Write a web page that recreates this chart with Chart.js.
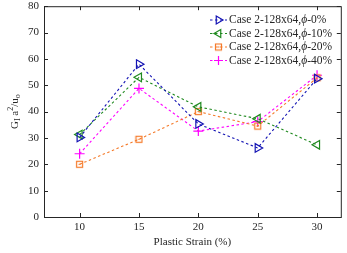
<!DOCTYPE html>
<html>
<head>
<meta charset="utf-8">
<script src="https://cdn.jsdelivr.net/npm/chart.js@4/dist/chart.umd.min.js"></script>
<style>
  html, body { margin: 0; padding: 0; background: #fff; }
  #wrap { width: 347px; height: 253px; }
</style>
</head>
<body>
<div id="wrap"><canvas id="c" width="347" height="253"></canvas></div>
<script>
const strain = [10, 15, 20, 25, 30];
const phi0 = [30.2, 58, 35.3, 26.2, 52.5];
const phi10 = [31.3, 53, 41.8, 37.3, 27.4];
const phi20 = [20, 29.5, 40, 34.5, 52.8];
const phi40 = [24, 48.8, 32.6, 36.2, 53.8];
const xTicks = [10, 15, 20, 25, 30];
const yTicks = [0, 10, 20, 30, 40, 50, 60, 70, 80];
const labels = ['Case 2-128x64,', 'Case 2-128x64,', 'Case 2-128x64,', 'Case 2-128x64,'];
const suffixes = ['-0%', '-10%', '-20%', '-40%'];

const FONT = '"Liberation Serif", "Times New Roman", serif';
const TXT = '#262626';
const DASH = [2.5, 2.5];

// square with a small centre mark, for the 20% series
function squareMarker(color) {
  const cv = document.createElement('canvas');
  cv.width = 9; cv.height = 9;
  const g = cv.getContext('2d');
  g.strokeStyle = color; g.lineWidth = 1.2;
  g.strokeRect(1.5, 1.5, 6, 6);
  g.fillStyle = color;
  g.fillRect(3.5, 4, 2, 1);
  return cv;
}

const series = [
  { vals: phi0, color: '#1414b4', style: 'triangle', rot: 90 },
  { vals: phi10, color: '#208a20', style: 'triangle', rot: -90 },
  { vals: phi20, color: '#f57a2a', style: squareMarker('#f57a2a'), rot: 0 },
  { vals: phi40, color: '#ff00ff', style: 'cross', rot: 0 },
];

const datasets = series.map((s, i) => ({
  label: labels[i] + suffixes[i],
  data: strain.map((x, j) => ({ x, y: s.vals[j] })),
  borderColor: s.color,
  backgroundColor: 'rgba(0,0,0,0)',
  borderWidth: 1.1,
  borderDash: DASH,
  pointStyle: s.style,
  pointRotation: s.rot,
  pointRadius: 5,
  pointBorderWidth: 1.2,
  pointBorderColor: s.color,
  fill: false,
  tension: 0,
}));

const boxPlugin = {
  id: 'box',
  afterDraw(chart) {
    const { ctx, chartArea: a, scales } = chart;
    ctx.save();
    ctx.strokeStyle = TXT;
    ctx.lineWidth = 1;
    ctx.strokeRect(a.left + 0.5, a.top + 0.5, a.right - a.left, a.bottom - a.top);
    ctx.beginPath();
    xTicks.forEach(v => {
      const px = Math.round(scales.x.getPixelForValue(v)) + 0.5;
      ctx.moveTo(px, a.bottom); ctx.lineTo(px, a.bottom - 4);
      ctx.moveTo(px, a.top); ctx.lineTo(px, a.top + 4);
    });
    yTicks.forEach(v => {
      const py = Math.round(scales.y.getPixelForValue(v)) + 0.5;
      ctx.moveTo(a.left, py); ctx.lineTo(a.left + 4, py);
      ctx.moveTo(a.right, py); ctx.lineTo(a.right - 4, py);
    });
    ctx.stroke();

    // legend inside the plot, top right
    const x0 = 210, y0 = 20, dy = 13.5;
    series.forEach((s, i) => {
      const y = y0 + i * dy;
      ctx.strokeStyle = s.color;
      ctx.fillStyle = 'rgba(0,0,0,0)';
      ctx.lineWidth = 1.1;
      ctx.setLineDash(DASH);
      ctx.beginPath(); ctx.moveTo(x0, y); ctx.lineTo(x0 + 17, y); ctx.stroke();
      ctx.setLineDash([]);
      ctx.lineWidth = 1.2;
      Chart.helpers.drawPoint(ctx, {
        pointStyle: s.style, radius: 4.5, rotation: s.rot, borderWidth: 1.2,
      }, x0 + 8.5, y);
      ctx.fillStyle = TXT;
      ctx.textBaseline = 'middle';
      ctx.font = '11.5px ' + FONT;
      let tx = x0 + 19;
      ctx.fillText(labels[i], tx, y);
      tx += ctx.measureText(labels[i]).width;
      ctx.font = 'italic 11.5px ' + FONT;
      ctx.fillText('\u03d5', tx, y);
      tx += ctx.measureText('\u03d5').width;
      ctx.font = '11.5px ' + FONT;
      ctx.fillText(suffixes[i], tx, y);
    });

    // y axis title: G_I a^2/u_o
    ctx.translate(15, (a.top + a.bottom) / 2);
    ctx.rotate(-Math.PI / 2);
    const parts = [
      ['G', 11, 0], ['I', 8, 3], [' a', 11, 0], ['2', 8, -4], ['/u', 11, 0], ['o', 8, 3],
    ];
    let w = 0;
    parts.forEach(p => { ctx.font = p[1] + 'px ' + FONT; w += ctx.measureText(p[0]).width; });
    let px = -w / 2;
    ctx.fillStyle = TXT;
    ctx.textBaseline = 'middle';
    parts.forEach(p => {
      ctx.font = p[1] + 'px ' + FONT;
      ctx.fillText(p[0], px, p[2]);
      px += ctx.measureText(p[0]).width;
    });
    ctx.restore();
  },
};

new Chart(document.getElementById('c'), {
  type: 'line',
  data: { datasets },
  options: {
    responsive: false,
    animation: false,
    layout: { padding: { top: 6, right: 6, left: 0, bottom: 0 } },
    plugins: { legend: { display: false }, tooltip: { enabled: false } },
    scales: {
      x: {
        type: 'linear', min: 7, max: 32,
        afterBuildTicks: s => { s.ticks = xTicks.map(v => ({ value: v })); },
        afterFit: s => { s.height = 36; s.paddingLeft = 0; s.paddingRight = 0; },
        grid: { display: false, drawTicks: false },
        border: { display: false },
        ticks: { color: TXT, font: { family: FONT, size: 11 }, padding: 4, maxRotation: 0 },
        title: { display: true, text: 'Plastic Strain (%)', color: TXT, font: { family: FONT, size: 11 }, padding: { top: 2, bottom: 4 } },
      },
      y: {
        min: 0, max: 80,
        afterBuildTicks: s => { s.ticks = yTicks.map(v => ({ value: v })); },
        afterFit: s => { s.width = 44; s.paddingTop = 0; s.paddingBottom = 0; },
        grid: { display: false, drawTicks: false },
        border: { display: false },
        ticks: { color: TXT, font: { family: FONT, size: 11 }, padding: 5 },
      },
    },
  },
  plugins: [boxPlugin],
});
</script>
</body>
</html>
